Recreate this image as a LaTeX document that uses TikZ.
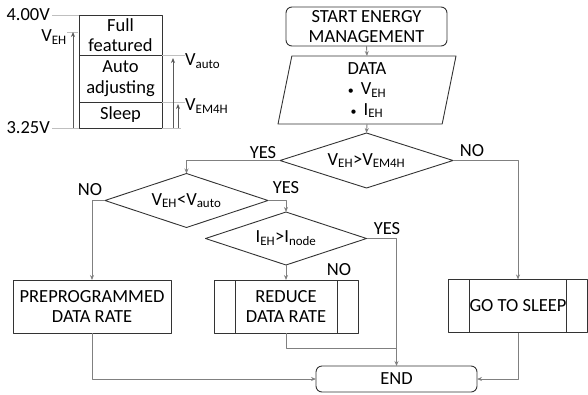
\documentclass[tikz,border=0pt]{standalone}
\usepackage{fontspec}
\setmainfont{Carlito}
\usetikzlibrary{arrows.meta,shapes.geometric,positioning}

\newcommand{\itembul}{{\fontsize{12}{12}\selectfont\textbullet}\hspace{7pt}}

\begin{document}
\begin{tikzpicture}[x=1pt,y=-1pt,>={Stealth[length=5pt,width=4pt]},line join=round,
  font=\fontsize{18.5}{20.5}\selectfont,
  box/.style={draw=black!80,line width=0.9pt,inner sep=0pt,outer sep=0pt,align=center},
  proc/.style={box,minimum height=53pt},
  subproc/.style={proc,path picture={
      \draw[black!80,line width=0.9pt]
        ([xshift=#1]path picture bounding box.north west) -- ([xshift=#1]path picture bounding box.south west)
        ([xshift=-#1]path picture bounding box.north east) -- ([xshift=-#1]path picture bounding box.south east);}},
  term/.style={box,rounded corners=6pt},
  test/.style={box,diamond},
  lab/.style={inner sep=0pt},
  flow/.style={draw=black!50,line width=0.9pt},
  level/.style={draw=black!25,line width=0.9pt},
  gauge/.style={draw=black!65,line width=0.8pt,->}]
\useasboundingbox (0,0) rectangle (588,394);

% voltage levels
\node[box,minimum width=83pt,minimum height=40pt] (full) at (120.5,35) {Full\\featured};
\node[box,minimum width=83pt,minimum height=47pt,below=0pt of full] (auto) {Auto\\adjusting};
\node[box,minimum width=83pt,minimum height=26pt,below=0pt of auto] (low) {Sleep};
\node[lab,anchor=east] (top) at (50,15) {4.00V};
\node[lab,anchor=east] (bot) at (50,128) {3.25V};
\node[lab,anchor=east] (veh) at (67,37) {V\textsubscript{EH}};
\node[lab,anchor=west] (vauto) at (185,61) {V\textsubscript{auto}};
\node[lab,anchor=west] (vem) at (185,106) {V\textsubscript{EM4H}};
\coordinate (ehtip) at (73,32);
\coordinate (autotip) at (173,58);
\coordinate (emtip) at (178,104);
\coordinate (botend) at (181,128);
\draw[level] ([xshift=2pt]top.east) -- (full.north west);
\draw[level] ([xshift=2pt]bot.east) -- (low.south west);
\draw[level] (low.south east) -- (botend);
\draw[level] (full.south east) -- (full.south east -| vauto.west);
\draw[level] (auto.south east) -- (auto.south east -| vem.west);
\draw[level] ([xshift=-6pt]ehtip) -- ([xshift=5pt]ehtip);
\draw[gauge] (bot.east -| ehtip) -- (ehtip);
\draw[gauge] (bot.east -| autotip) -- (autotip);
\draw[gauge] (bot.east -| emtip) -- (emtip);

% flowchart
\node[term,minimum width=161pt,minimum height=39pt] (start) at (366.5,26.5) {START ENERGY\\MANAGEMENT};
\node[box,trapezium,trapezium left angle=76,trapezium right angle=104,trapezium stretches body,
  minimum width=178pt,minimum height=68pt] (data) at (367,90) {DATA\\\itembul V\textsubscript{EH}\\\itembul I\textsubscript{EH}};
\node[test,minimum width=173pt,minimum height=55pt,aspect=3.15] (d1) at (366.5,160.5) {V\textsubscript{EH}>V\textsubscript{EM4H}};
\node[test,minimum width=163pt,minimum height=54pt,aspect=3] (d2) at (186.5,200.5) {V\textsubscript{EH}<V\textsubscript{auto}};
\node[test,minimum width=161pt,minimum height=53pt,aspect=3] (d3) at (286,238.5) {I\textsubscript{EH}>I\textsubscript{node}};
\node[proc,minimum width=158pt] (prep) at (92,306.5) {PREPROGRAMMED\\DATA RATE};
\node[subproc=21pt,minimum width=144pt] (reduce) at (286,306.5) {REDUCE\\DATA RATE};
\node[subproc=21pt,minimum width=139pt] (sleep) at (518,306) {GO TO SLEEP};
\node[term,minimum width=161pt,minimum height=26pt] (end) at (396.5,379) {END};
\coordinate (merge) at (396.5,348);

\draw[flow,->] (start.south) -- (data.north);
\draw[flow,->] (data.south) -- (d1.north);
\draw[flow,->] (d1.west) -| (d2.north);
\draw[flow,->] (d1.east) -| (sleep.north);
\draw[flow,->] (d2.west) -| (prep.north);
\draw[flow,->] (d2.east) -| (d3.north);
\draw[flow,->] (d3.east) -| (end.north);
\draw[flow,->] (d3.south) -- (reduce.north);
\draw[flow] (reduce.south) |- (merge);
\draw[flow,->] (prep.south) |- (end.west);
\draw[flow,->] (sleep.south) |- (end.east);

\node[lab] (yes1) at (263,153) {YES};
\node[lab] (no1) at (472,151) {NO};
\node[lab] (no2) at (90,190) {NO};
\node[lab] (yes2) at (286,188) {YES};
\node[lab] (yes3) at (387,229) {YES};
\node[lab] (no3) at (339,270) {NO};
\end{tikzpicture}
\end{document}
